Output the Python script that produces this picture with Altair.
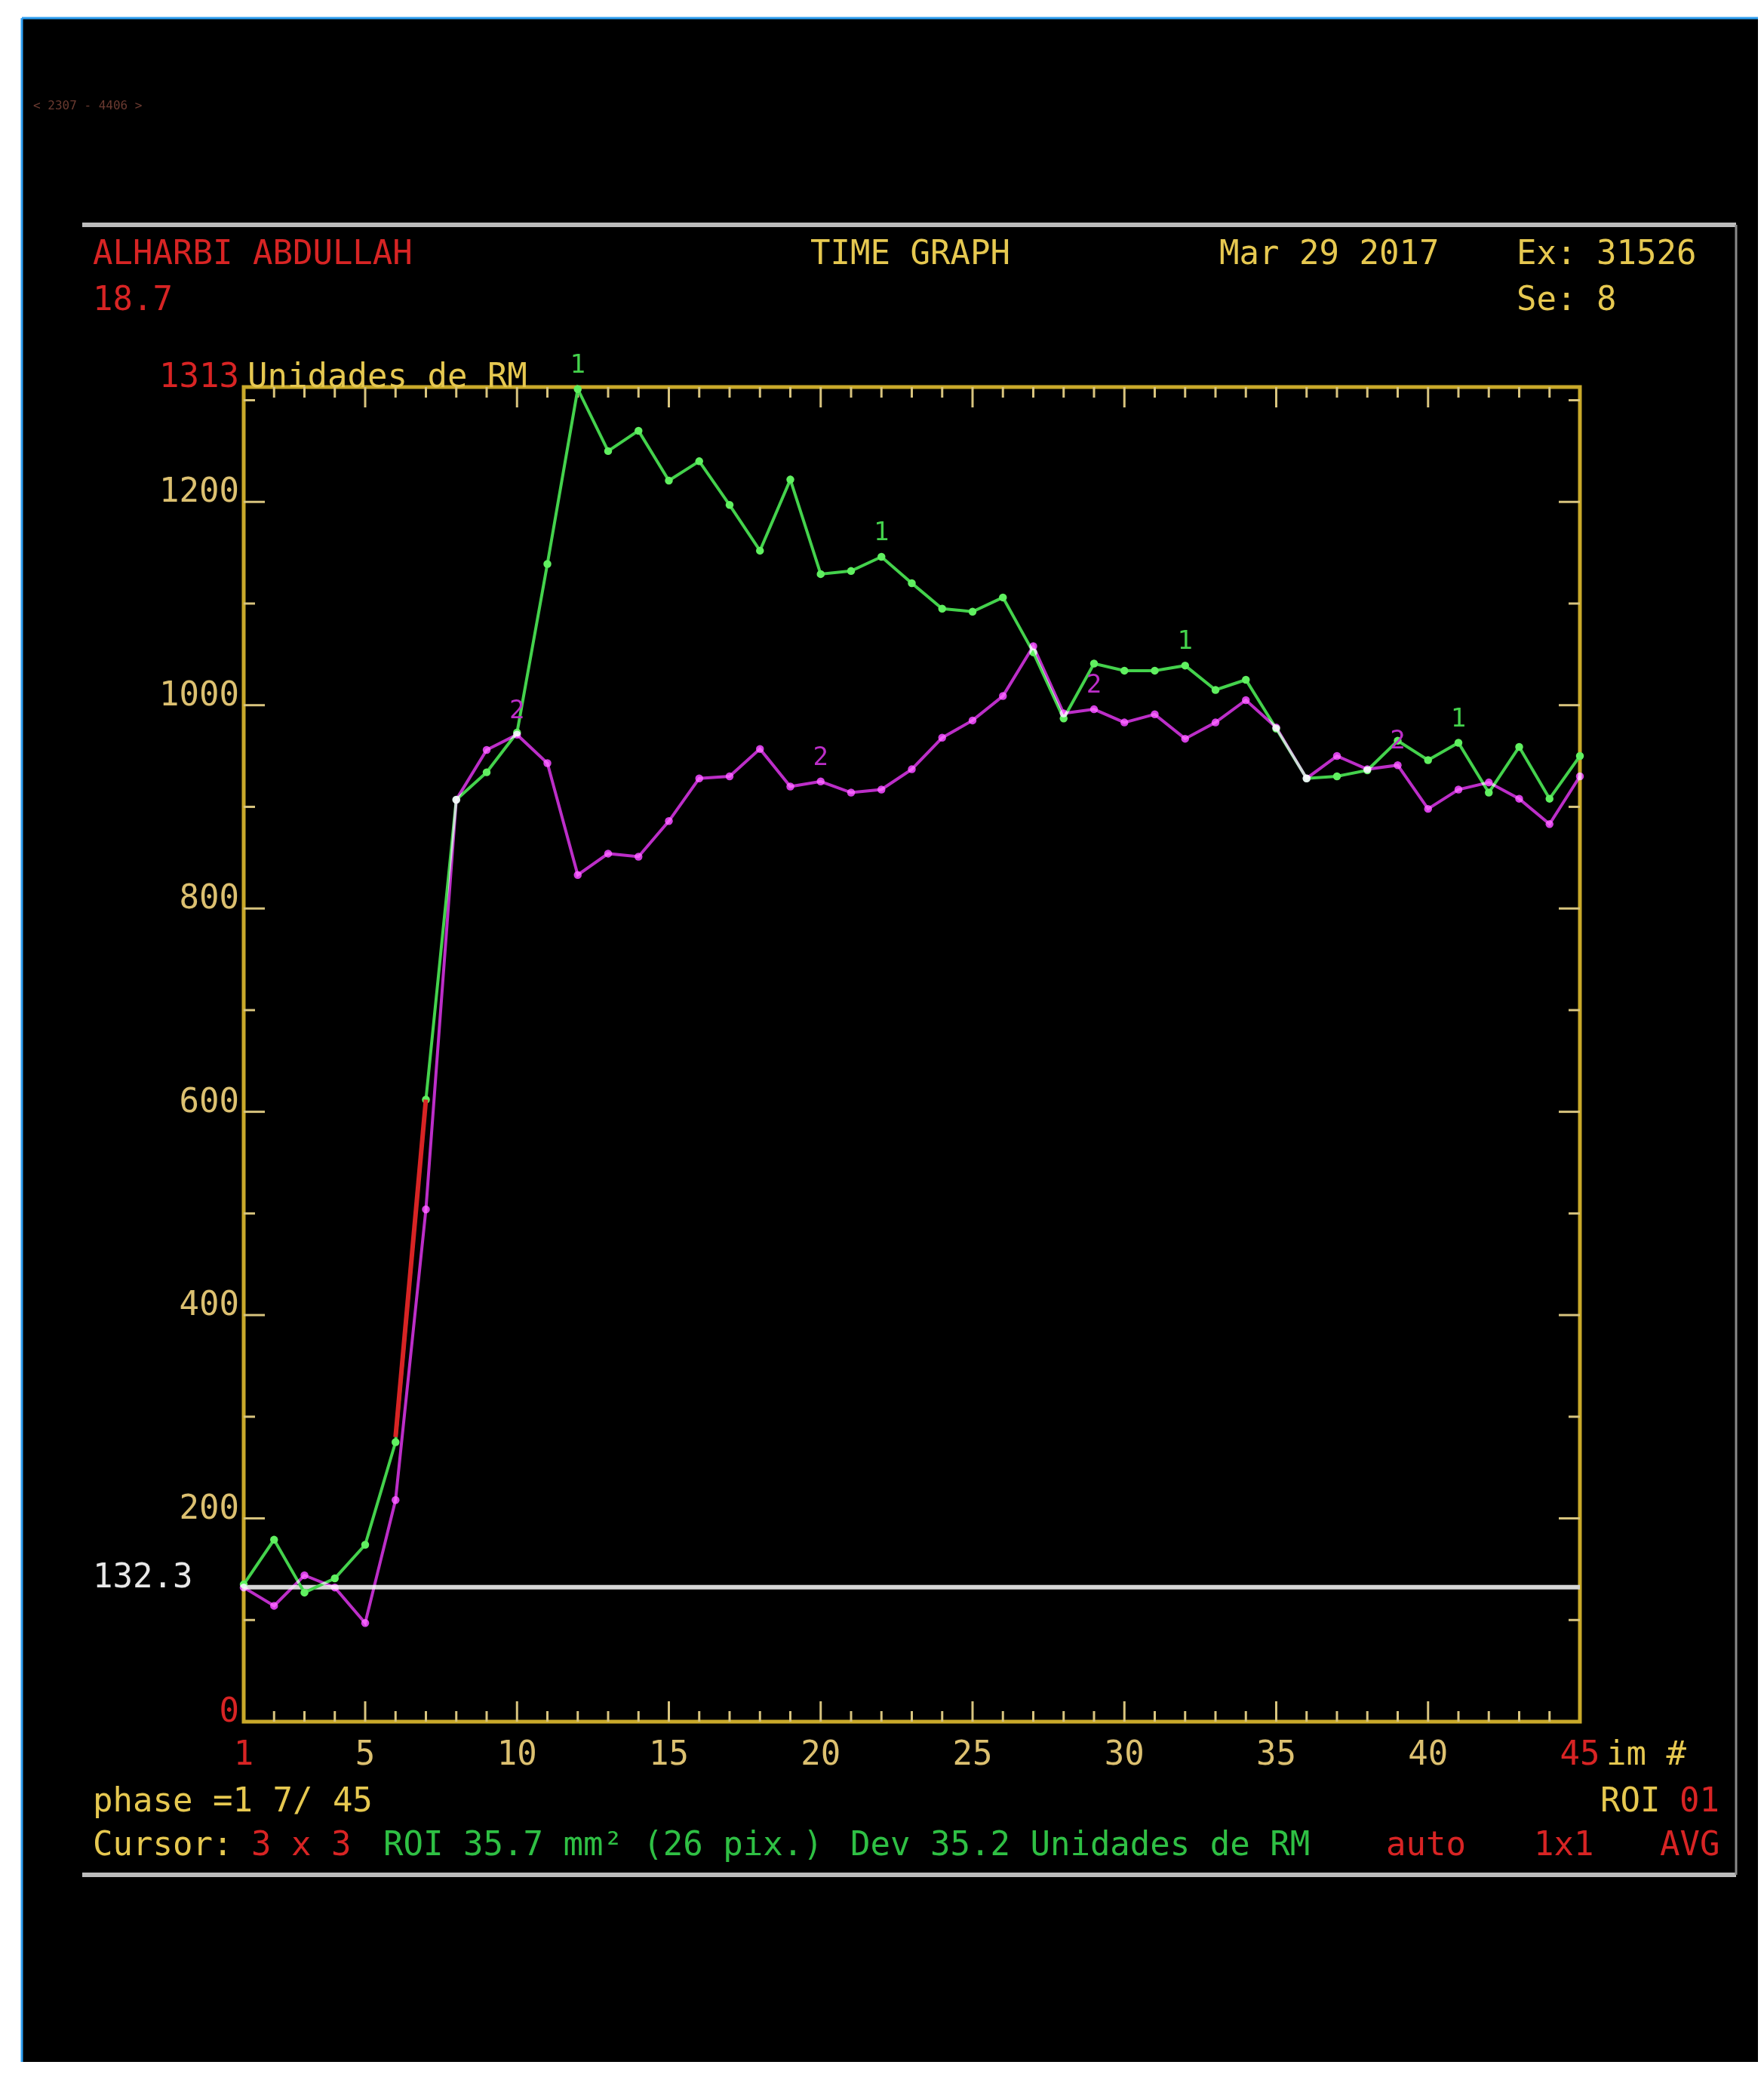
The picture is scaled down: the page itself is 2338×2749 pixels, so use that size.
import altair as alt
import pandas as pd

# ---------------- data ----------------
frames = list(range(1, 46))
roi1 = [135, 179, 127, 141, 174, 275, 612, 907, 934, 973, 1139, 1311, 1250, 1270, 1221,
        1240, 1197, 1152, 1222, 1129, 1132, 1146, 1120, 1095, 1092, 1106, 1052, 987, 1041, 1034,
        1034, 1039, 1015, 1025, 977, 928, 930, 936, 965, 946, 963, 914, 959, 908, 950]
roi2 = [132, 114, 144, 132, 97, 218, 504, 907, 956, 971, 943, 833, 854, 851, 886,
        928, 930, 957, 920, 925, 914, 917, 937, 968, 985, 1009, 1058, 992, 996, 983,
        991, 967, 983, 1005, 978, 928, 950, 937, 941, 898, 917, 924, 908, 883, 930]
red_frames = [6, 7]
red_values = [280, 612]
label1_frames = [12, 22, 32, 41]
label2_frames = [10, 20, 29, 39]
baseline_value = 132.3
y_major = [200, 400, 600, 800, 1000, 1200]
y_minor = [100, 300, 500, 700, 900, 1100, 1300]
x_major = [5, 10, 15, 20, 25, 30, 35, 40]
x_minor = [f for f in range(2, 45) if f % 5 != 0]
x_labels_mid = [5, 10, 15, 20, 25, 30, 35, 40]
x_labels_end = [1, 45]
y_top = 1313

# ---------------- layout ----------------
L, T = 323, 513          # plot origin in page pixels
W, H = 1771, 1769        # plot area
FONT = "DejaVu Sans Mono"
FS = 44

GOLD = "#c9a92a"
TICK = "#d8c47e"
YEL = "#e6c850"
RED = "#d82424"
GRN_TXT = "#2fc044"
GREEN = "#44d24c"
GREEN_PT = "#60f060"
MAG = "#bc2ec8"
MAG_PT = "#d440e2"

xs = alt.Scale(domain=[1, 45], nice=False, zero=False)
ys = alt.Scale(domain=[0, y_top], nice=False, zero=True)

one = pd.DataFrame({"a": [0]})


def px(X):
    return X - L


def py(Y):
    return Y - T


def txt(text, X, Y, color, size=FS, align="left", baseline="middle"):
    return alt.Chart(one).mark_text(
        text=text, font=FONT, fontSize=size, color=color, align=align, baseline=baseline
    ).encode(x=alt.value(px(X)), y=alt.value(py(Y)))


def rule(X1, Y1, X2, Y2, color, width):
    return alt.Chart(one).mark_rule(color=color, strokeWidth=width).encode(
        x=alt.value(px(X1)), y=alt.value(py(Y1)), x2=alt.value(px(X2)), y2=alt.value(py(Y2))
    )


layers = []

# black screen area with blue border
layers.append(alt.Chart(one).mark_rect(color="black").encode(
    x=alt.value(px(29)), x2=alt.value(px(2400)), y=alt.value(py(24)), y2=alt.value(py(2800))))
layers.append(rule(29, 24, 2400, 24, "#2e9ef0", 3))
layers.append(rule(29, 24, 29, 2800, "#2e9ef0", 3))

# gray frame lines
layers.append(rule(109, 298, 2301, 298, "#bcbcbc", 6))
layers.append(rule(109, 2485, 2301, 2485, "#bcbcbc", 6))
layers.append(rule(2301, 298, 2301, 2485, "#8a8a8a", 3))

# plot frame
layers.append(alt.Chart(one).mark_rect(fill=None, stroke=GOLD, strokeWidth=5).encode(
    x=alt.value(0), x2=alt.value(W), y=alt.value(0), y2=alt.value(H)))

# ticks
ymaj = pd.DataFrame({"v": y_major})
ymin = pd.DataFrame({"v": y_minor})
xmaj = pd.DataFrame({"v": x_major})
xmin = pd.DataFrame({"v": x_minor})
for d, ln in ((ymaj, 28), (ymin, 15)):
    layers.append(alt.Chart(d).mark_rule(color=TICK, strokeWidth=3).encode(
        y=alt.Y("v:Q", scale=ys, axis=None), x=alt.value(0), x2=alt.value(ln)))
    layers.append(alt.Chart(d).mark_rule(color=TICK, strokeWidth=3).encode(
        y=alt.Y("v:Q", scale=ys, axis=None), x=alt.value(W), x2=alt.value(W - ln)))
for d, ln in ((xmaj, 27), (xmin, 14)):
    layers.append(alt.Chart(d).mark_rule(color=TICK, strokeWidth=3).encode(
        x=alt.X("v:Q", scale=xs, axis=None), y=alt.value(0), y2=alt.value(ln)))
    layers.append(alt.Chart(d).mark_rule(color=TICK, strokeWidth=3).encode(
        x=alt.X("v:Q", scale=xs, axis=None), y=alt.value(H), y2=alt.value(H - ln)))

# y tick labels
ylab = pd.DataFrame({"v": y_major, "t": [str(v) for v in y_major]})
layers.append(alt.Chart(ylab).mark_text(font=FONT, fontSize=FS, color="#dcc070", align="right",
                                        baseline="alphabetic", dx=-6).encode(
    y=alt.Y("v:Q", scale=ys, axis=None), x=alt.value(0), text="t:N"))
yred = pd.DataFrame({"v": [0, y_top], "t": ["0", str(y_top)]})
layers.append(alt.Chart(yred).mark_text(font=FONT, fontSize=FS, color=RED, align="right",
                                        baseline="alphabetic", dx=-6).encode(
    y=alt.Y("v:Q", scale=ys, axis=None), x=alt.value(0), text="t:N"))

# x tick labels
xlab = pd.DataFrame({"v": x_labels_mid, "t": [str(v) for v in x_labels_mid]})
layers.append(alt.Chart(xlab).mark_text(font=FONT, fontSize=FS, color="#dcc070", baseline="middle").encode(
    x=alt.X("v:Q", scale=xs, axis=None), y=alt.value(H + 44), text="t:N"))
xred = pd.DataFrame({"v": x_labels_end, "t": [str(v) for v in x_labels_end]})
layers.append(alt.Chart(xred).mark_text(font=FONT, fontSize=FS, color=RED, baseline="middle").encode(
    x=alt.X("v:Q", scale=xs, axis=None), y=alt.value(H + 44), text="t:N"))

# baseline level line
base = pd.DataFrame({"f": [1, 45], "v": [baseline_value, baseline_value]})
layers.append(alt.Chart(base).mark_line(color="#d6d6d6", strokeWidth=6).encode(
    x=alt.X("f:Q", scale=xs, axis=None), y=alt.Y("v:Q", scale=ys, axis=None)))
layers.append(alt.Chart(pd.DataFrame({"v": [baseline_value], "t": [f"{baseline_value}"]})).mark_text(
    font=FONT, fontSize=FS, color="#e8e8e8", align="left", baseline="alphabetic").encode(
    y=alt.Y("v:Q", scale=ys, axis=None), x=alt.value(px(123)), text="t:N"))

# series
d1 = pd.DataFrame({"f": frames, "v": roi1})
d2 = pd.DataFrame({"f": frames, "v": roi2})
d3 = pd.DataFrame({"f": red_frames, "v": red_values})
enc = dict(x=alt.X("f:Q", scale=xs, axis=None), y=alt.Y("v:Q", scale=ys, axis=None))
layers.append(alt.Chart(d1).mark_line(color=GREEN, strokeWidth=4).encode(**enc))
layers.append(alt.Chart(d1).mark_point(filled=True, color=GREEN_PT, size=110, opacity=1).encode(**enc))
layers.append(alt.Chart(d3).mark_line(color=RED, strokeWidth=6).encode(**enc))
layers.append(alt.Chart(d2).mark_line(color=MAG, strokeWidth=4, blend="screen").encode(**enc))
layers.append(alt.Chart(d2).mark_point(filled=True, color=MAG_PT, size=110, opacity=1, blend="screen").encode(**enc))

# series number labels
l1 = pd.DataFrame({"f": label1_frames, "v": [roi1[f - 1] for f in label1_frames], "t": ["1"] * len(label1_frames)})
l2 = pd.DataFrame({"f": label2_frames, "v": [roi2[f - 1] for f in label2_frames], "t": ["2"] * len(label2_frames)})
layers.append(alt.Chart(l1).mark_text(font=FONT, fontSize=34, color=GREEN, dy=-32).encode(text="t:N", **enc))
layers.append(alt.Chart(l2).mark_text(font=FONT, fontSize=34, color=MAG, dy=-32).encode(text="t:N", **enc))

# header texts
layers += [
    txt("< 2307 - 4406 >", 44, 140, "#6a3a30", size=16),
    txt("ALHARBI ABDULLAH", 123, 337, RED),
    txt("18.7", 123, 398, RED),
    txt("TIME GRAPH", 1074, 337, YEL),
    txt("Mar 29 2017", 1616, 337, YEL),
    txt("Ex: 31526", 2010, 337, YEL),
    txt("Se: 8", 2010, 398, YEL),
    txt("Unidades de RM", 328, T, YEL, baseline="alphabetic"),
    txt("im #", 2129, 2326, YEL),
    txt("phase =1 7/ 45", 123, 2388, YEL),
    txt("ROI", 2121, 2388, YEL),
    txt("01", 2226, 2388, RED),
    txt("Cursor:", 123, 2446, YEL),
    txt("3 x 3", 333, 2446, RED),
    txt("ROI 35.7 mm² (26 pix.)", 508, 2446, GRN_TXT),
    txt("Dev 35.2 Unidades de RM", 1127, 2446, GRN_TXT),
    txt("auto", 1837, 2446, RED),
    txt("1x1", 2033, 2446, RED),
    txt("AVG", 2200, 2446, RED),
]

chart = alt.layer(*layers).properties(
    width=W,
    height=H,
    autosize=alt.AutoSizeParams(type="none"),
    padding={"left": L - 8, "top": T - 8, "right": 236, "bottom": 451},
    background="white",
).configure_view(strokeWidth=0)

chart.save("out.html", embed_options={"renderer": "svg", "actions": False})
